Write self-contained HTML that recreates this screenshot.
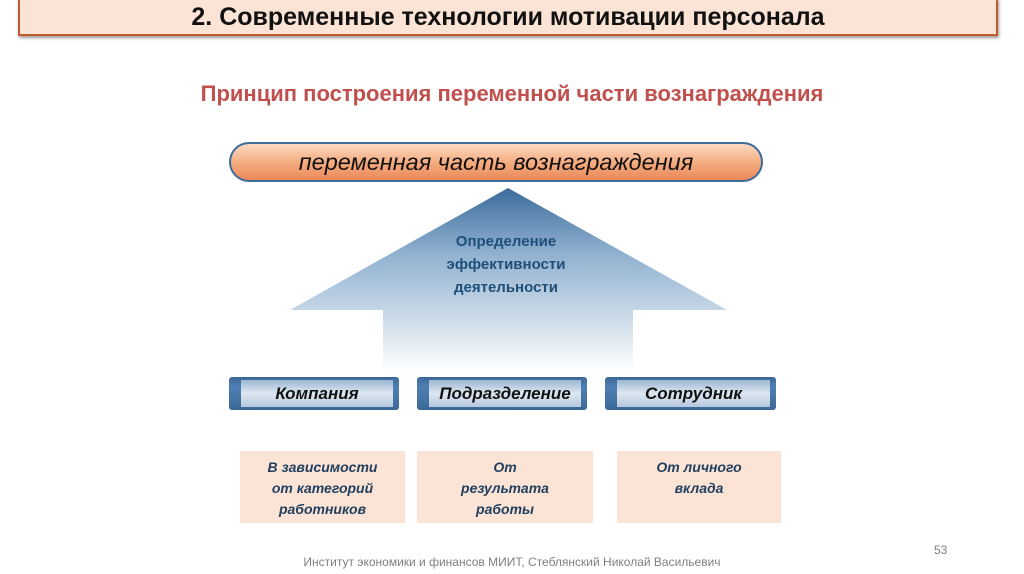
<!DOCTYPE html>
<html><head><meta charset="utf-8"><style>
body{margin:0;width:1024px;height:574px;background:#fff;position:relative;overflow:hidden;font-family:"Liberation Sans",sans-serif}
.a{position:absolute}
.hdr{left:18px;top:-2px;width:976px;height:34px;background:#fbe4d5;border:2px solid #c55a2b;box-shadow:1px 2px 3px rgba(0,0,0,.4);text-align:center;font-weight:bold;font-size:25px;line-height:34px;color:#111}
.sub{left:0;width:1024px;top:81px;text-align:center;color:#c0504d;font-weight:bold;font-size:22px}
.pill{left:229px;top:142px;width:530px;height:36px;border:2px solid #3e6c9a;border-radius:20px;background:linear-gradient(#fcd9c2,#f4a97c 55%,#e9895a);text-align:center;font-style:italic;font-size:23.5px;line-height:36px;color:#111}
.tab{height:33px;border-radius:3px;background:linear-gradient(#3a6797,#4f80b3 30%,#3b6898);}
.tab span{position:absolute;left:12px;right:6px;top:3px;bottom:3px;background:linear-gradient(#9cb7d3,#dde7f1 50%,#b4c8dd);text-align:center;font-weight:bold;font-style:italic;font-size:17px;line-height:27px;color:#111}
.bx{top:451px;height:72px;background:#fbe3d5;text-align:center;font-weight:bold;font-style:italic;font-size:14px;line-height:21px;color:#213f5e;padding-top:6px;box-sizing:border-box}
</style></head><body>
<div class="a hdr">2. Современные технологии мотивации персонала</div>
<div class="a sub">Принцип построения переменной части вознаграждения</div>
<div class="a pill">переменная часть вознаграждения</div>
<svg class="a" style="left:0;top:0" width="1024" height="574">
<defs><linearGradient id="g" x1="0" y1="0" x2="0" y2="1"><stop offset="0" stop-color="#3b6c9c"/><stop offset="0.35" stop-color="#8fb0cf"/><stop offset="1" stop-color="#ffffff"/></linearGradient></defs>
<polygon points="508,188 727,310 633,310 633,372 383,372 383,310 290,310" fill="url(#g)"/>
</svg>
<div class="a" style="left:381px;top:230px;width:250px;text-align:center;color:#1f4e79;font-weight:bold;font-size:15px;line-height:23px">Определение<br>эффективности<br>деятельности</div>
<div class="a tab" style="left:229px;top:377px;width:170px"><span>Компания</span></div>
<div class="a tab" style="left:417px;top:377px;width:170px"><span>Подразделение</span></div>
<div class="a tab" style="left:605px;top:377px;width:171px"><span>Сотрудник</span></div>
<div class="a bx" style="left:240px;width:165px">В зависимости<br>от категорий<br>работников</div>
<div class="a bx" style="left:417px;width:176px">От<br>результата<br>работы</div>
<div class="a bx" style="left:617px;width:164px">От личного<br>вклада</div>
<div class="a" style="left:0;width:1024px;top:555px;text-align:center;color:#7f7f7f;font-size:12px">Институт экономики и финансов МИИТ, Стеблянский Николай Васильевич</div>
<div class="a" style="left:934px;top:543px;color:#7f7f7f;font-size:12px">53</div>
</body></html>
